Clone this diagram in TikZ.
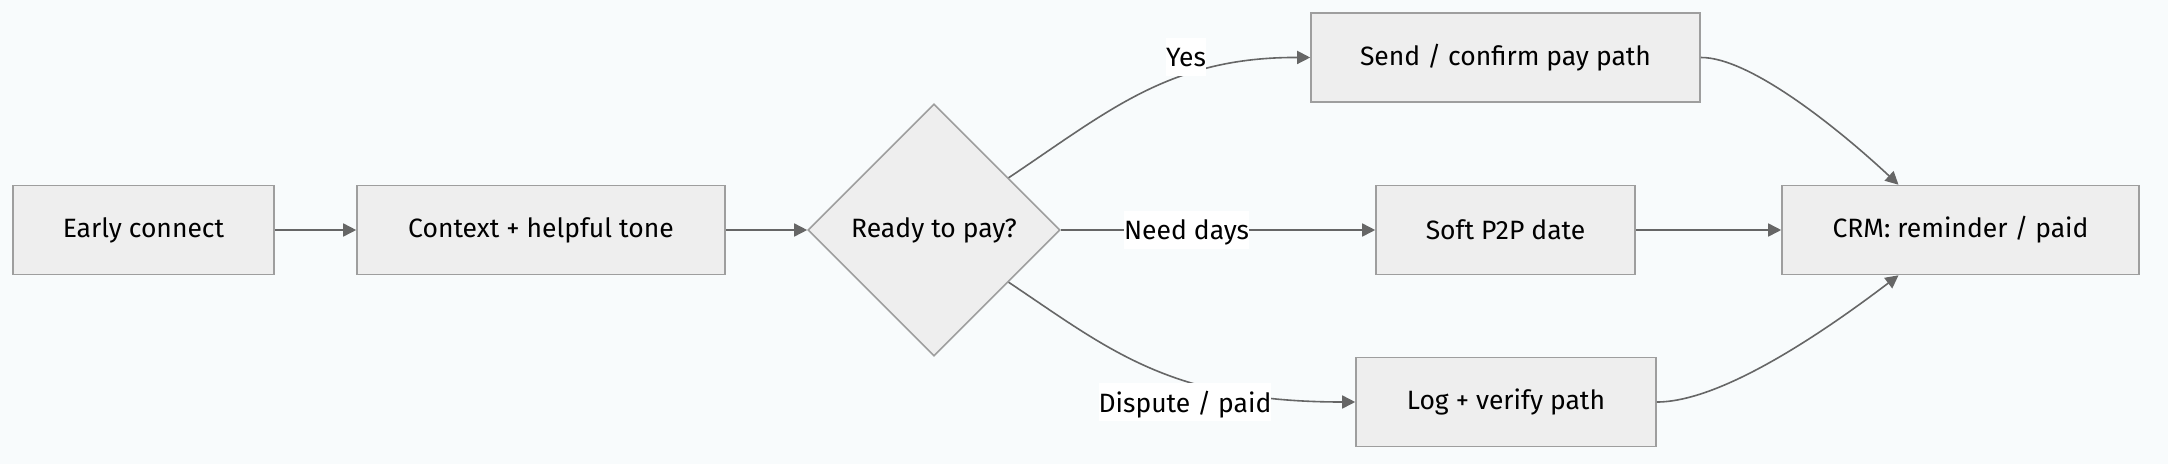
\documentclass[tikz,border=0pt]{standalone}
\usepackage{fontspec}
\setmainfont{Fira Sans}
\usetikzlibrary{shapes.geometric,arrows.meta,calc}
\definecolor{bgcol}{HTML}{F8FBFC}
\definecolor{boxfill}{HTML}{EEEEEE}
\definecolor{boxline}{HTML}{9E9E9E}
\definecolor{flowline}{HTML}{666666}
\tikzset{
	stepbox/.style={draw=boxline, fill=boxfill, line width=1.6pt, minimum height=89pt, inner sep=0pt, font=\fontsize{26.5}{30}\selectfont},
	decision/.style={diamond, aspect=1, draw=boxline, fill=boxfill, line width=1.6pt, minimum width=252pt, minimum height=252pt, inner sep=0pt, font=\fontsize{26.5}{30}\selectfont},
	elabel/.style={fill=white, inner sep=0pt, minimum height=38pt, text depth=0pt, font=\fontsize{26.5}{30}\selectfont},
	flow/.style={draw=flowline, line width=1.6pt, -{Triangle[length=13pt,width=13pt]}}
}
\begin{document}
\begin{tikzpicture}[x=1pt, y=-1pt]
		\fill[bgcol] (0,0) rectangle (2168,464);
		\node[stepbox, minimum width=261pt] (early) at (143.5,230) {Early connect};
		\node[stepbox, minimum width=368pt] (ctx) at (541,230) {Context + helpful tone};
		\node[decision] (dec) at (934,230) {Ready to pay?};
		\node[stepbox, minimum width=389pt] (send) at (1505.5,57.5) {Send / confirm pay path};
		\node[stepbox, minimum width=259pt] (soft) at (1505.5,230) {Soft P2P date};
		\node[stepbox, minimum width=300pt] (log) at (1506,402) {Log + verify path};
		\node[stepbox, minimum width=357pt] (crm) at (1960.5,230) {CRM: reminder / paid};
		\coordinate (crmtop) at ([xshift=-62pt]crm.north);
		\coordinate (crmbot) at ([xshift=-62pt]crm.south);
		\draw[flow] (early) -- (ctx);
		\draw[flow] (ctx) -- (dec);
		\draw[flow] (dec.35) .. controls (1110,110) and (1170,57) .. (send.west);
		\draw[flow] (dec) -- (soft) node[elabel, pos=0.4] (lneed) {Need days};
		\draw[flow] (dec.-35) .. controls (1110,350) and (1170,402) .. (log.west);
		\draw[flow] (send.east) .. controls (1750,57) and (1840,130) .. (crmtop);
		\draw[flow] (soft) -- (crm);
		\draw[flow] (log.east) .. controls (1720,402) and (1820,335) .. (crmbot);
		\node[elabel] (lyes) at (1186,57) {Yes};
		\node[elabel] (ldisp) at (1185,402) {Dispute / paid};
	\end{tikzpicture}
\end{document}
